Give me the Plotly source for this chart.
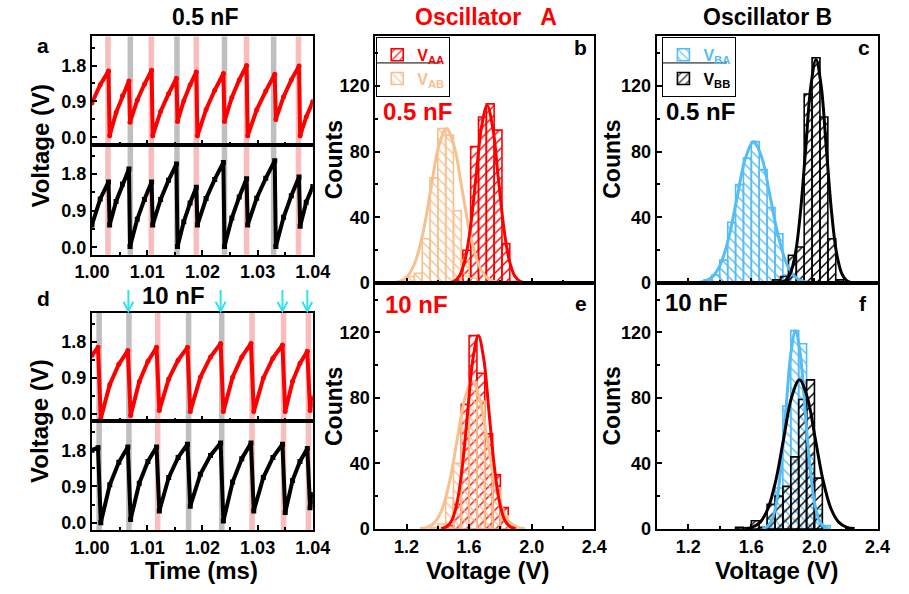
import plotly.graph_objects as go

# ---------------- data ----------------
# Panel a (0.5 nF) time-domain waveforms (ms, V)
T05 = [1.0000, 1.0015, 1.0030, 1.0032, 1.00437, 1.00553, 1.0067, 1.0069, 1.0082, 1.0095,
       1.0108, 1.0110, 1.01243, 1.01387, 1.0153, 1.0155, 1.01663, 1.01777, 1.0189, 1.0191,
       1.02067, 1.02223, 1.0238, 1.0240, 1.02533, 1.02667, 1.0280, 1.0282, 1.02983, 1.03147,
       1.0331, 1.0333, 1.0347, 1.0361, 1.0375, 1.0377, 1.0388, 1.0400]
VA05 = [0.86, 1.32, 1.66, 0.04, 0.62, 1.04, 1.41, 0.38, 0.93, 1.33,
        1.68, 0.04, 0.65, 1.09, 1.48, 0.40, 0.92, 1.31, 1.64, 0.04,
        0.70, 1.18, 1.60, 0.40, 1.00, 1.44, 1.80, 0.04, 0.69, 1.16,
        1.58, 0.45, 1.02, 1.44, 1.79, 0.04, 0.51, 0.90]
VB05 = [0.55, 1.19, 1.61, 0.55, 1.13, 1.56, 1.93, 0.02, 0.69, 1.18,
        1.61, 0.55, 1.18, 1.65, 2.05, 0.02, 0.63, 1.09, 1.48, 0.55,
        1.20, 1.67, 2.09, 0.02, 0.72, 1.24, 1.69, 0.55, 1.21, 1.70,
        2.13, 0.02, 0.74, 1.27, 1.73, 0.52, 1.11, 1.50]
A_PINK = [1.0029, 1.01075, 1.0189, 1.0280, 1.0374]
A_GRAY = [1.00695, 1.0154, 1.0240, 1.0329]

# Panel d (10 nF)
T10 = [1.0000, 1.0011, 1.0016, 1.00323, 1.00487, 1.0065, 1.0070, 1.00857, 1.01013, 1.0117,
       1.0122, 1.0139, 1.0156, 1.0173, 1.0178, 1.01963, 1.02147, 1.0233, 1.0238, 1.02547,
       1.02713, 1.0288, 1.0293, 1.03103, 1.03277, 1.0345, 1.0350, 1.03633, 1.03767, 1.0390,
       1.0395, 1.0400]
VA10 = [1.46, 1.66, -0.12, 0.73, 1.24, 1.58, -0.05, 0.80, 1.31, 1.66,
        0.08, 0.87, 1.34, 1.66, 0.05, 0.91, 1.42, 1.76, 0.05, 0.91,
        1.42, 1.76, 0.05, 0.89, 1.39, 1.72, 0.05, 0.81, 1.26, 1.56,
        0.08, 0.40]
VB10 = [1.80, 1.86, 0.00, 0.94, 1.50, 1.88, 0.08, 0.98, 1.52, 1.88,
        0.29, 1.12, 1.62, 1.95, 0.41, 1.20, 1.67, 1.98, 0.04, 1.01,
        1.59, 1.98, 0.29, 1.12, 1.62, 1.95, 0.25, 1.05, 1.52, 1.84,
        0.37, 0.70]
D_PINK = [1.0119, 1.0290, 1.0347, 1.0392]
D_GRAY = [1.0013, 1.0067, 1.0175, 1.0235]
D_ARROWS = [1.0066, 1.0233, 1.0345, 1.0390]
BAND_W = 0.001

# Histograms (bin centres, counts), bin width 0.05 V
BIN_W = 0.05
B_AA_X = [1.535, 1.585, 1.635, 1.685, 1.735, 1.785, 1.835, 1.885]
B_AA_Y = [2, 20, 83, 101, 109, 93, 24, 1]
B_AB_X = [1.175, 1.225, 1.275, 1.325, 1.375, 1.425, 1.475, 1.525, 1.575, 1.625]
B_AB_Y = [1, 4, 6, 27, 64, 94, 90, 44, 14, 3]
C_BA_X = [1.325, 1.375, 1.425, 1.475, 1.525, 1.575, 1.625, 1.675, 1.725, 1.775, 1.825]
C_BA_Y = [2, 5, 14, 37, 60, 76, 86, 69, 46, 30, 5]
C_BB_X = [1.76, 1.81, 1.86, 1.91, 1.96, 2.01, 2.06, 2.11, 2.16]
C_BB_Y = [2, 4, 17, 22, 115, 137, 101, 27, 2]
E_AA_X = [1.475, 1.525, 1.575, 1.625, 1.675, 1.725, 1.775, 1.825]
E_AA_Y = [2, 15, 76, 118, 95, 58, 33, 13]
E_AB_X = [1.375, 1.425, 1.475, 1.525, 1.575, 1.625, 1.675, 1.725, 1.775, 1.825, 1.875]
E_AB_Y = [1, 3, 19, 40, 70, 90, 78, 50, 25, 8, 2]
F_BA_X = [1.725, 1.775, 1.825, 1.875, 1.925, 1.975, 2.025, 2.075]
F_BA_Y = [6, 25, 75, 121, 113, 45, 12, 2]
F_BB_X = [1.525, 1.625, 1.675, 1.725, 1.775, 1.825, 1.875, 1.925, 1.975, 2.025]
F_BB_Y = [1, 5, 1, 15, 20, 26, 44, 79, 91, 31]

# Fitted curves (V, counts)
B_AA_FX = [1.47, 1.505, 1.54, 1.575, 1.61, 1.645, 1.68, 1.715, 1.75, 1.785, 1.82, 1.855, 1.89, 1.925, 1.96]
B_AA_FY = [0.2, 1.2, 4.7, 14.6, 35.1, 65.5, 95.3, 108, 95.3, 65.5, 35.1, 14.6, 4.7, 1.2, 0.2]
B_AB_FX = [1.105, 1.155, 1.205, 1.255, 1.305, 1.355, 1.405, 1.455, 1.505, 1.555, 1.605, 1.655, 1.705, 1.755, 1.805]
B_AB_FY = [0.2, 1.0, 4.1, 12.7, 30.5, 57.0, 83.0, 94, 83.0, 57.0, 30.5, 12.7, 4.1, 1.0, 0.2]
C_BA_FX = [1.2475, 1.30, 1.3525, 1.405, 1.4575, 1.51, 1.5625, 1.615, 1.6675, 1.72, 1.7725, 1.825, 1.8775, 1.93, 1.9825]
C_BA_FY = [0.2, 1.0, 3.8, 11.6, 27.9, 52.2, 75.9, 86, 75.9, 52.2, 27.9, 11.6, 3.8, 1.0, 0.2]
C_BB_FX = [1.7825, 1.815, 1.8475, 1.88, 1.9125, 1.945, 1.9775, 2.01, 2.0425, 2.075, 2.1075, 2.14, 2.1725, 2.205, 2.2375]
C_BB_FY = [0.3, 1.5, 6.0, 18.4, 44.2, 82.5, 120.0, 136, 120.0, 82.5, 44.2, 18.4, 6.0, 1.5, 0.3]
E_AA_FX = [1.421, 1.455, 1.489, 1.523, 1.557, 1.591, 1.625, 1.659, 1.693, 1.727, 1.761, 1.795, 1.829, 1.863, 1.897]
E_AA_FY = [0.3, 1.3, 5.2, 16.0, 38.3, 71.6, 104.1, 118, 104.1, 71.6, 38.3, 16.0, 5.2, 1.3, 0.3]
E_AB_FX = [1.284, 1.332, 1.38, 1.428, 1.476, 1.524, 1.572, 1.62, 1.668, 1.716, 1.764, 1.812, 1.86, 1.908, 1.956]
E_AB_FY = [0.2, 1.0, 4.0, 12.2, 29.2, 54.6, 79.4, 90, 79.4, 54.6, 29.2, 12.2, 4.0, 1.0, 0.2]
F_BA_FX = [1.67, 1.70, 1.73, 1.76, 1.79, 1.82, 1.85, 1.88, 1.91, 1.94, 1.97, 2.00, 2.03, 2.06, 2.09]
F_BA_FY = [0.3, 1.3, 5.3, 16.4, 39.3, 73.4, 106.8, 121, 106.8, 73.4, 39.3, 16.4, 5.3, 1.3, 0.3]
F_BB_FX = [1.555, 1.605, 1.655, 1.705, 1.755, 1.805, 1.855, 1.905, 1.955, 2.005, 2.055, 2.105, 2.155, 2.205, 2.255]
F_BB_FY = [0.2, 1.0, 4.0, 12.3, 29.5, 55.2, 80.3, 91, 80.3, 55.2, 29.5, 12.3, 4.0, 1.0, 0.2]

# ---------------- style ----------------
W, H = 909, 594
def PX(x): return x / W
def PY(y): return 1 - y / H

FONT = "Liberation Sans, Arial, sans-serif"
RED = "#FF0000"; ORANGE = "#F7C08F"; BLUE = "#55BDF5"; BLACK = "#000000"
PINK = "#FABDBD"; GRAY = "#BFBFBF"; CYAN = "#30E2F0"

fig = go.Figure()

def wave(t, v, color, symbol, ax):
    fig.add_trace(go.Scatter(x=t, y=v, mode="lines+markers", xaxis="x" + ax, yaxis="y" + ax,
                             line=dict(color=color, width=4),
                             marker=dict(color=color, size=5, symbol=symbol),
                             showlegend=False, hoverinfo="skip"))

wave(T05, VA05, RED, "circle", "")
wave(T05, VB05, BLACK, "square", "2")
wave(T10, VA10, RED, "circle", "3")
wave(T10, VB10, BLACK, "square", "4")

def bars(x, y, color, shape, ax, name=None, legend="legend"):
    fig.add_trace(go.Bar(x=x, y=y, width=BIN_W, xaxis="x" + ax, yaxis="y" + ax,
                         marker=dict(color="rgba(0,0,0,0)",
                                     line=dict(color=color, width=1.6),
                                     pattern=dict(shape=shape, fgcolor=color, bgcolor="rgba(0,0,0,0)",
                                                  size=7, solidity=0.2, fillmode="replace")),
                         name=name if name else "", showlegend=name is not None,
                         legend=legend, legendgroup=(name or "") + ax, hoverinfo="skip"))

def fit(x, y, color, ax):
    fig.add_trace(go.Scatter(x=x, y=y, mode="lines", xaxis="x" + ax, yaxis="y" + ax,
                             line=dict(color=color, width=3, shape="spline"),
                             showlegend=False, hoverinfo="skip"))

def lg(text, color):
    return '<span style="color:%s"><b>V<sub>%s</sub></b></span>' % (color, text)

# panel b (x5,y5)
bars(B_AA_X, B_AA_Y, RED, "/", "5", lg("AA", RED), "legend")
bars(B_AB_X, B_AB_Y, ORANGE, "\\", "5", lg("AB", ORANGE), "legend")
fit(B_AB_FX, B_AB_FY, ORANGE, "5")
fit(B_AA_FX, B_AA_FY, RED, "5")
# panel e (x6,y6)
bars(E_AA_X, E_AA_Y, RED, "/", "6")
bars(E_AB_X, E_AB_Y, ORANGE, "\\", "6")
fit(E_AB_FX, E_AB_FY, ORANGE, "6")
fit(E_AA_FX, E_AA_FY, RED, "6")
# panel c (x7,y7)
bars(C_BA_X, C_BA_Y, BLUE, "\\", "7", lg("BA", BLUE), "legend2")
bars(C_BB_X, C_BB_Y, BLACK, "/", "7", lg("BB", BLACK), "legend2")
fit(C_BA_FX, C_BA_FY, BLUE, "7")
fit(C_BB_FX, C_BB_FY, BLACK, "7")
# panel f (x8,y8)
bars(F_BA_X, F_BA_Y, BLUE, "\\", "8")
bars(F_BB_X, F_BB_Y, BLACK, "/", "8")
fit(F_BA_FX, F_BA_FY, BLUE, "8")
fit(F_BB_FX, F_BB_FY, BLACK, "8")

TICKFONT = dict(family=FONT, size=18, color="black", weight="bold")

def axis(domain, anchor, rng, labels=True, **kw):
    d = dict(domain=domain, anchor=anchor, range=rng, showline=True, linecolor="black",
             linewidth=2, mirror=True, ticks="inside", ticklen=5, tickwidth=1.5,
             tickcolor="black", showgrid=False, zeroline=False, tickfont=TICKFONT,
             showticklabels=labels)
    d.update(kw)
    return d

XA = [PX(77), PX(307)]
YR = [-0.18, 2.53]
tx = dict(dtick=0.01, tick0=1.0, tickformat=".2f",
          minor=dict(ticks="inside", ticklen=3, tickwidth=1.5, tickcolor="black", dtick=0.005))
ty = dict(tickvals=[0, 0.9, 1.8], tickformat=".1f",
          minor=dict(ticks="inside", ticklen=3, tickwidth=1.5, tickcolor="black", dtick=0.45))
hx = dict(dtick=0.4, tick0=1.2, tickformat=".1f",
          minor=dict(ticks="inside", ticklen=3, tickwidth=1.5, tickcolor="black", dtick=0.2))
hy = dict(dtick=40, tick0=0,
          minor=dict(ticks="inside", ticklen=3, tickwidth=1.5, tickcolor="black", dtick=20))

BX = [PX(372), PX(600)]
CX = [PX(665), PX(895)]
TOPY = [PY(288), PY(37)]
BOTY = [PY(538), PY(288)]

fig.update_layout(
    xaxis=axis(XA, "y", [1.0, 1.04], False, **tx),
    yaxis=axis([PY(147), PY(37)], "x", YR, **ty),
    xaxis2=axis(XA, "y2", [1.0, 1.04], True, **tx),
    yaxis2=axis([PY(259), PY(147)], "x2", YR, **ty),
    xaxis3=axis(XA, "y3", [1.0, 1.04], False, **tx),
    yaxis3=axis([PY(428), PY(318)], "x3", YR, **ty),
    xaxis4=axis(XA, "y4", [1.0, 1.04], True, **tx),
    yaxis4=axis([PY(539), PY(428)], "x4", YR, **ty),
    xaxis5=axis(BX, "y5", [1.0, 2.4], False, **hx),
    yaxis5=axis(TOPY, "x5", [0, 150], **hy),
    xaxis6=axis(BX, "y6", [1.0, 2.4], True, **hx),
    yaxis6=axis(BOTY, "x6", [0, 150], **hy),
    xaxis7=axis(CX, "y7", [1.0, 2.4], False, **hx),
    yaxis7=axis(TOPY, "x7", [0, 150], **hy),
    xaxis8=axis(CX, "y8", [1.0, 2.4], True, **hx),
    yaxis8=axis(BOTY, "x8", [0, 150], **hy),
)

# bands
shapes = []
def band(centers, color, xref, y0, y1):
    for c in centers:
        shapes.append(dict(type="rect", xref=xref, yref="paper", x0=c - BAND_W / 2, x1=c + BAND_W / 2,
                           y0=y0, y1=y1, fillcolor=color, line=dict(width=0), layer="below"))
band(A_PINK, PINK, "x", PY(259), PY(37))
band(A_GRAY, GRAY, "x", PY(259), PY(37))
band(D_PINK, PINK, "x3", PY(539), PY(318))
band(D_GRAY, GRAY, "x3", PY(539), PY(318))

# cyan arrows above panel d (line + open chevron head)
HEAD_DX = 0.0009
for t in D_ARROWS:
    shapes.append(dict(type="line", xref="x3", yref="paper", x0=t, x1=t, y0=PY(295), y1=PY(316.5),
                       line=dict(color=CYAN, width=2)))
    shapes.append(dict(type="path", xref="x3", yref="paper",
                       path="M %f,%f L %f,%f L %f,%f" % (t - HEAD_DX, PY(307), t, PY(316.5), t + HEAD_DX, PY(307)),
                       line=dict(color=CYAN, width=2)))

# divider lines inside the two legend boxes
shapes.append(dict(type="line", xref="paper", yref="paper", x0=PX(373), x1=PX(440), y0=PY(64), y1=PY(64),
                   line=dict(color="black", width=1)))
shapes.append(dict(type="line", xref="paper", yref="paper", x0=PX(671), x1=PX(738), y0=PY(64), y1=PY(64),
                   line=dict(color="black", width=1)))
fig.update_layout(shapes=shapes)

ann = []
def txt(x, y, s, size, color="black", angle=0, xanchor="center"):
    ann.append(dict(x=PX(x), y=PY(y), xref="paper", yref="paper", text="<b>%s</b>" % s,
                    showarrow=False, textangle=angle, xanchor=xanchor, yanchor="middle",
                    font=dict(family=FONT, size=size, color=color)))

txt(195, 17, "0.5 nF", 23)
txt(487, 17, "Oscillator&nbsp;&nbsp;&nbsp;A", 23, RED)
txt(780, 17, "Oscillator B", 23)
txt(162, 301, "10 nF", 24)
txt(26, 46, "a", 21); txt(27, 304, "d", 21)
txt(586, 48, "b", 21); txt(881, 48, "c", 21)
txt(586, 309, "e", 21); txt(880, 309, "f", 21)
txt(378, 113, "0.5 nF", 24, RED, xanchor="left")
txt(673, 113, "0.5 nF", 24, BLACK, xanchor="left")
txt(380, 310, "10 nF", 24, RED, xanchor="left")
txt(672, 308, "10 nF", 24, BLACK, xanchor="left")
txt(23, 148, "Voltage (V)", 24, angle=-90)
txt(23, 428, "Voltage (V)", 24, angle=-90)
txt(329, 162, "Counts", 23, angle=-90)
txt(329, 413, "Counts", 23, angle=-90)
txt(619, 162, "Counts", 23, angle=-90)
txt(619, 413, "Counts", 23, angle=-90)
txt(191, 580, "Time (ms)", 24)
txt(489, 580, "Voltage (V)", 24)
txt(790, 580, "Voltage (V)", 24)
fig.update_layout(annotations=ann)

LEG = dict(xanchor="left", yanchor="top", bordercolor="black", borderwidth=1,
           bgcolor="rgba(255,255,255,0)", font=dict(family=FONT, size=16),
           tracegroupgap=0, itemwidth=30)
fig.update_layout(
    legend=dict(x=PX(373), y=PY(37.5), **LEG),
    legend2=dict(x=PX(671), y=PY(37.5), **LEG),
    barmode="overlay", width=W, height=H, margin=dict(l=0, r=0, t=0, b=0),
    plot_bgcolor="white", paper_bgcolor="white", showlegend=True,
    font=dict(family=FONT),
)

fig.write_html("out.html")
